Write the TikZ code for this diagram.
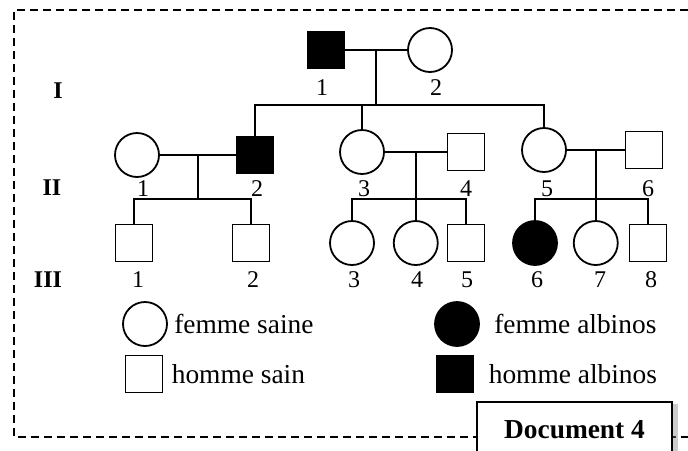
\documentclass[tikz,border=0pt]{standalone}
\usepackage{fontspec}
\setmainfont{Liberation Serif}
\usetikzlibrary{positioning,shadows,calc}
\tikzstyle{female} = [circle, draw, line width=0.9pt, minimum size=22pt, inner sep=0pt]
\tikzstyle{male} = [rectangle, draw, line width=0.9pt, minimum size=18.5pt, inner sep=0pt]
\tikzstyle{albinos} = [fill=black]
\tikzstyle{link} = [line width=0.9pt]
\tikzstyle{num} = [font=\fontsize{12}{14}\selectfont, inner sep=0pt]
\tikzstyle{gen} = [font=\fontsize{12}{14}\selectfont\bfseries, inner sep=0pt]
\tikzstyle{legend} = [font=\fontsize{13.7}{16}\selectfont, inner sep=0pt]
\tikzstyle{docbox} = [draw, line width=0.9pt, fill=white, drop shadow={shadow xshift=3pt, shadow yshift=-1pt, opacity=0.4}, minimum width=97.5pt, minimum height=28pt, font=\fontsize{13.7}{16}\selectfont\bfseries]

\begin{document}
\begin{tikzpicture}[x=0.5pt, y=-0.5pt]
\useasboundingbox (0,0) rectangle (688,450);

% Frame
\draw[line width=0.75pt, dash pattern=on 4pt off 2.5pt] (688,10) -- (14,10) -- (14,437) -- (688,437);

% Generation I
\node[male, albinos] (I1) at (326,50) {};
\node[female] (I2) at (430,50) {};
\coordinate (m1) at ($(I1.east)!0.5!(I2.west)$);
\coordinate (s1) at (m1 |- 0,105);

% Generation II
\node[female] (II1) at (137,155) {};
\node[male, albinos] (II2) at (255,155) {};
\node[female] (II3) at (362,152) {};
\node[male] (II4) at (466,152) {};
\node[female] (II5) at (544,150) {};
\node[male] (II6) at (644,150) {};
\coordinate (m2) at ($(II1.east)!0.5!(II2.west)$);
\coordinate (m3) at ($(II3.east)!0.5!(II4.west)$);
\coordinate (m4) at ($(II5.east)!0.5!(II6.west)$);
\coordinate (sib) at (0,199);

% Generation III
\coordinate (r3) at (0,243);
\node[male] (III1) at (134,243) {};
\node[male] (III2) at (251,243) {};
\node[female] (III3) at (352,243) {};
\node[female] (III4) at (m3 |- r3) {};
\node[male] (III5) at (466,243) {};
\node[female, albinos] (III6) at (535,243) {};
\node[female] (III7) at (m4 |- r3) {};
\node[male] (III8) at (648,243) {};

% Lines
\draw[link] (I1) -- (I2);
\draw[link] (m1) -- (s1);
\draw[link] (II2) |- (s1) -| (II5);
\draw[link] (II3) -- (II3 |- s1);

\draw[link] (II1) -- (II2);
\draw[link] (m2) -- (m2 |- sib);
\draw[link] (III1) |- (m2 |- sib) -| (III2);

\draw[link] (II3) -- (II4);
\draw[link] (m3) -- (III4);
\draw[link] (III3) |- (m3 |- sib) -| (III5);

\draw[link] (II5) -- (II6);
\draw[link] (m4) -- (III7);
\draw[link] (III6) |- (m4 |- sib) -| (III8);

% Numbers
\node[gen] at (58,91) {I};
\node[gen] at (52,188) {II};
\node[gen] at (48,280) {III};

\node[num] at (322,88) {1};
\node[num] at (436,88) {2};

\node[num] at (143,189) {1};
\node[num] at (257,189) {2};
\node[num] at (364,189) {3};
\node[num] at (466,189) {4};
\node[num] at (547,189) {5};
\node[num] at (648,189) {6};

\node[num] at (138,280) {1};
\node[num] at (253,280) {2};
\node[num] at (354,280) {3};
\node[num] at (417,280) {4};
\node[num] at (467,280) {5};
\node[num] at (537,280) {6};
\node[num] at (600,280) {7};
\node[num] at (651,280) {8};

% Legend
\node[female] (lf) at (145,324) {};
\node[legend, right=3pt of lf] {femme saine};
\node[male] (lm) at (144,374) {};
\node[legend, right=4pt of lm] {homme sain};
\node[female, albinos] (la) at (457,324) {};
\node[legend, right=7pt of la] {femme albinos};
\node[male, albinos] (lam) at (455,374) {};
\node[legend, right=7pt of lam] {homme albinos};

% Document label
\node[docbox] (doc) at (574.5,430) {Document 4};
\end{tikzpicture}
\end{document}
